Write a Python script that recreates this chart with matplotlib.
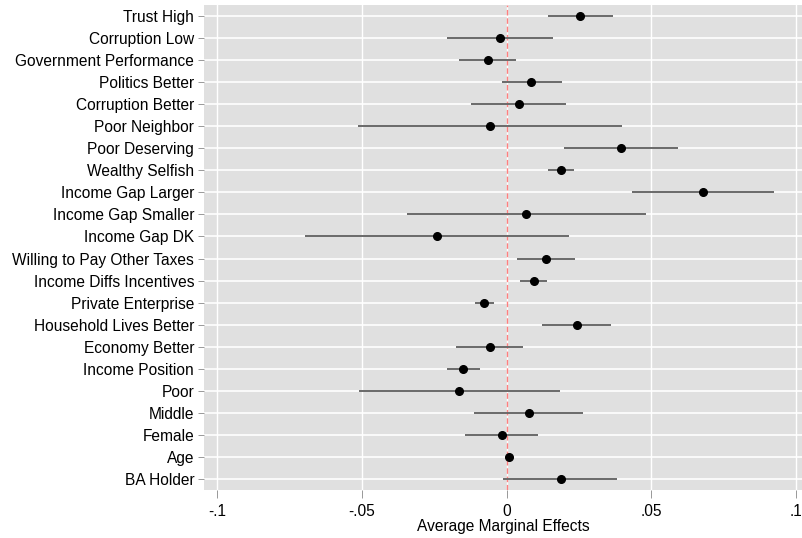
import numpy as np
import matplotlib.pyplot as plt

plt.rcParams['font.family'] = ['Liberation Sans', 'DejaVu Sans']

labels = ['Trust High', 'Corruption Low', 'Government Performance', 'Politics Better',
          'Corruption Better', 'Poor Neighbor', 'Poor Deserving', 'Wealthy Selfish',
          'Income Gap Larger', 'Income Gap Smaller', 'Income Gap DK',
          'Willing to Pay Other Taxes', 'Income Diffs Incentives', 'Private Enterprise',
          'Household Lives Better', 'Economy Better', 'Income Position', 'Poor',
          'Middle', 'Female', 'Age', 'BA Holder']
effects = [0.0254, -0.0022, -0.0065, 0.0086, 0.0042, -0.0058, 0.0396, 0.0189,
           0.0679, 0.0069, -0.0241, 0.0136, 0.0094, -0.0077, 0.0242, -0.0058,
           -0.0151, -0.0163, 0.0077, -0.0016, 0.0008, 0.0188]
ci_low = [0.0142, -0.0207, -0.0164, -0.0017, -0.0122, -0.0515, 0.0197, 0.0143,
          0.0433, -0.0343, -0.0698, 0.0036, 0.0048, -0.0109, 0.0122, -0.0175,
          -0.0207, -0.0510, -0.0111, -0.0143, 0.0000, -0.0011]
ci_high = [0.0369, 0.0159, 0.0033, 0.0191, 0.0205, 0.0399, 0.0592, 0.0234,
           0.0926, 0.0482, 0.0215, 0.0238, 0.0140, -0.0045, 0.0361, 0.0058,
           -0.0093, 0.0185, 0.0264, 0.0110, 0.0016, 0.0383]
xticks = [-0.1, -0.05, 0, 0.05, 0.1]
xtick_labels = ['-.1', '-.05', '0', '.05', '.1']

fig = plt.figure(figsize=(8.03, 5.38), dpi=100)
ax = fig.add_axes([0.254, 0.0892, 0.746, 0.9015])
ax.set_facecolor('#e0e0e0')

y = np.arange(len(labels))[::-1]

# grid
for yy in y:
    ax.axhline(yy, color='white', lw=1.2, zorder=1)
for xx in xticks:
    ax.axvline(xx, color='white', lw=1.0, zorder=1)

# zero reference line
ax.axvline(0, color='#ff7f7f', lw=1.0, ls=(0, (4, 2)), zorder=2)
ax.hlines(y, ci_low, ci_high, color='#6a6a6a', lw=1.4, zorder=3)
ax.plot(effects, y, 'o', color='black', markersize=5.5, zorder=4)

ax.set_xlim(-0.1046, 0.1025)
ax.set_ylim(-0.5, 21.5)
ax.set_yticks(y)
ax.set_yticklabels(labels, fontsize=11.2)
ax.set_xticks(xticks)
ax.set_xticklabels(xtick_labels, fontsize=11.2)
ax.tick_params(axis='y', length=4, width=0.6, color='#888888', pad=3)
ax.tick_params(axis='x', length=6, width=0.6, color='#888888', pad=4)
ax.set_xlabel('Average Marginal Effects', fontsize=11.2, labelpad=0)
for s in ax.spines.values():
    s.set_visible(False)

fig.savefig('out.png', dpi=100)
